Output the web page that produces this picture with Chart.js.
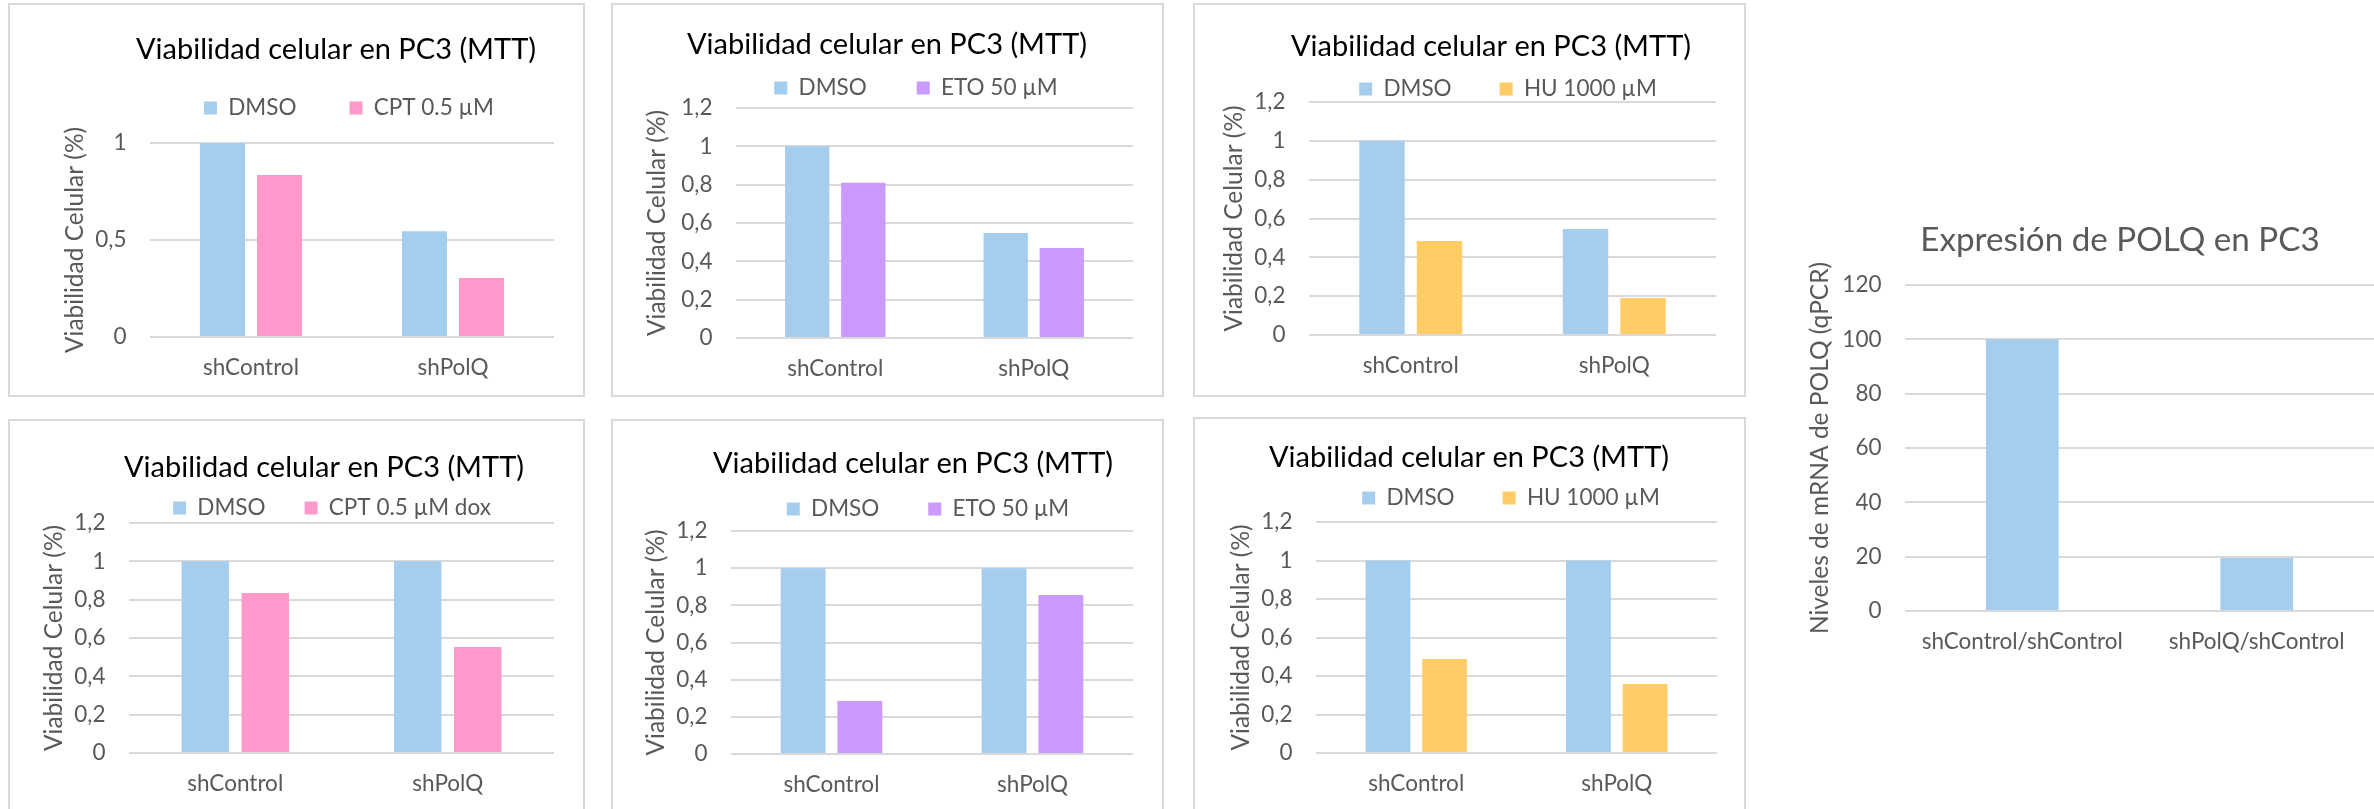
<!DOCTYPE html>
<html>
<head>
<meta charset="utf-8">
<title>Viabilidad celular en PC3</title>
<script src="https://cdn.jsdelivr.net/npm/chart.js@4.4.1/dist/chart.umd.min.js"></script>
<style>
  body { margin: 0; width: 2374px; height: 809px; overflow: hidden; background: #fff; position: relative; }
  .panel { position: absolute; box-sizing: border-box; border: 2px solid #d9d9d9; }
  canvas { position: absolute; }
</style>
</head>
<body>
<script>
// data
var categories = ['shControl', 'shPolQ'];
var dmsoCpt = [1, 0.545];
var cpt = [0.835, 0.304];
var dmsoEto = [1, 0.548];
var eto = [0.81, 0.469];
var dmsoHu = [1, 0.546];
var hu = [0.484, 0.191];
var dmsoCptDox = [1, 1];
var cptDox = [0.835, 0.553];
var dmsoEto2 = [1, 1];
var eto2 = [0.285, 0.856];
var dmsoHu2 = [1, 1];
var hu2 = [0.488, 0.358];
var polqCategories = ['shControl/shControl', 'shPolQ/shControl'];
var polqLevels = [100, 19.5];

var BLUE = '#A5CDEE', PINK = '#FF99CC', PURPLE = '#CC99FF', ORANGE = '#FFCC66';
var GREY = '#595959';
var SMALL = 22.5;

Chart.defaults.font.family = 'Lato, "Open Sans", sans-serif';

// moves the title and legend to fixed centres (the source chart has them hand-placed)
var placeText = {
    id: 'placeText',
    afterLayout: function(chart, args, opts) {
        var t = chart.titleBlock;
        if (t && opts.title) {
            moveBox(t, opts.title[0] - (t.left + t.right) / 2, opts.title[1] - (t.top + t.bottom) / 2);
        }
        var l = chart.legend;
        if (l && opts.legend) {
            var lab = l.options.labels;
            var itemH = Math.max(lab.font.size, lab.boxHeight);
            var cy = l.top + lab.padding + itemH / 2;
            moveBox(l, opts.legend[0] - (l.left + l.right) / 2, opts.legend[1] - cy);
            // legend clips to its own box, so give it back its full height
            l.bottom = l.top + lab.padding + itemH + 10;
            l.height = l.bottom - l.top;
        }
    }
};
function moveBox(b, dx, dy) {
    b.left += dx; b.right += dx; b.top += dy; b.bottom += dy;
}

function bars(label, values, color) {
    return { label: label, data: values, backgroundColor: color, borderWidth: 0,
             categoryPercentage: 0.565, barPercentage: 0.79 };
}

function commaTick(v) {
    return String(Math.round(v * 10) / 10).replace('.', ',');
}

var TITLE = 'Viabilidad celular en PC3 (MTT)';
var YTITLE = 'Viabilidad Celular (%)';

var panels = [
    { box: [8, 3, 577, 394], area: [150, 143, 554, 337], titleAt: [336, 50], legendAt: [349, 108], yTitleX: 75, gap: 53,
      max: 1, step: 0.5, labels: categories, datasets: [bars('DMSO', dmsoCpt, BLUE), bars('CPT 0.5 µM', cpt, PINK)] },
    { box: [611, 3, 553, 394], area: [736, 108, 1133, 338], titleAt: [887, 45], legendAt: [916, 88], yTitleX: 657, gap: 50,
      max: 1.2, step: 0.2, labels: categories, datasets: [bars('DMSO', dmsoEto, BLUE), bars('ETO 50 µM', eto, PURPLE)] },
    { box: [1193, 3, 553, 394], area: [1309, 102, 1716, 335], titleAt: [1491, 47], legendAt: [1508, 89], yTitleX: 1234, gap: 48,
      max: 1.2, step: 0.2, labels: categories, datasets: [bars('DMSO', dmsoHu, BLUE), bars('HU 1000 µM', hu, ORANGE)] },
    { box: [8, 419, 577, 400], area: [129, 523, 554, 753], titleAt: [324, 468], legendAt: [332, 508], yTitleX: 54, gap: 39,
      max: 1.2, step: 0.2, labels: categories, datasets: [bars('DMSO', dmsoCptDox, BLUE), bars('CPT 0.5 µM dox', cptDox, PINK)] },
    { box: [611, 419, 553, 400], area: [731, 531, 1133, 754], titleAt: [913, 464], legendAt: [928, 509], yTitleX: 656, gap: 49,
      max: 1.2, step: 0.2, labels: categories, datasets: [bars('DMSO', dmsoEto2, BLUE), bars('ETO 50 µM', eto2, PURPLE)] },
    { box: [1193, 417, 553, 402], area: [1316, 522, 1717, 753], titleAt: [1469, 458], legendAt: [1511, 498], yTitleX: 1241, gap: 48,
      max: 1.2, step: 0.2, labels: categories, datasets: [bars('DMSO', dmsoHu2, BLUE), bars('HU 1000 µM', hu2, ORANGE)] },
    { box: [1770, 150, 604, 560], area: [1905, 285, 2374, 611], titleAt: [2120, 240], legendAt: null, yTitleX: 1820, noBorder: true,
      title: 'Expresión de POLQ en PC3', titleSize: 33.2, titleColor: GREY, yTitle: 'Niveles de mRNA de POLQ (qPCR)',
      max: 120, step: 20, labels: polqCategories,
      datasets: [{ label: 'POLQ', data: polqLevels, backgroundColor: BLUE, borderWidth: 0, categoryPercentage: 0.31, barPercentage: 1 }] }
];

panels.forEach(function(p) {
    var box = p.box;
    if (!p.noBorder) {
        var d = document.createElement('div');
        d.className = 'panel';
        d.style.left = box[0] + 'px'; d.style.top = box[1] + 'px';
        d.style.width = box[2] + 'px'; d.style.height = box[3] + 'px';
        document.body.appendChild(d);
    }
    var c = document.createElement('canvas');
    c.width = box[2]; c.height = box[3];
    c.style.left = box[0] + 'px'; c.style.top = box[1] + 'px';
    document.body.appendChild(c);

    var titleSize = p.titleSize || 29;
    var titleLH = titleSize * 1.2;
    var legendH = p.legendAt ? 40 : 0;
    var left = p.area[0] - box[0], top = p.area[1] - box[1];
    var right = p.area[2] - box[0], bottom = p.area[3] - box[1];
    var yTitleSize = 24.5;

    new Chart(c, {
        type: 'bar',
        data: { labels: p.labels, datasets: p.datasets },
        options: {
            responsive: false,
            animation: false,
            devicePixelRatio: 1,
            layout: { padding: { left: 0, top: top - titleLH - legendH, right: box[2] - right, bottom: box[3] - bottom - 50 } },
            plugins: {
                title: { display: true, text: p.title || TITLE, color: p.titleColor || '#000',
                         font: { size: titleSize, weight: 'normal' }, padding: 0 },
                legend: { display: !!p.legendAt, maxHeight: legendH,
                          labels: { color: GREY, font: { size: SMALL }, boxWidth: 13, boxHeight: 13, padding: p.gap || 10 } },
                tooltip: { enabled: false },
                placeText: {
                    title: [p.titleAt[0] - box[0], p.titleAt[1] - box[1]],
                    legend: p.legendAt ? [p.legendAt[0] - box[0], p.legendAt[1] - box[1]] : null
                }
            },
            scales: {
                x: {
                    grid: { display: false, drawTicks: false },
                    border: { display: false },
                    ticks: { color: GREY, font: { size: SMALL }, padding: 17.5 },
                    afterFit: function(s) { s.height = 50; }
                },
                y: {
                    min: 0, max: p.max,
                    grid: { color: '#D9D9D9', lineWidth: 2, drawTicks: false },
                    border: { display: false },
                    ticks: { stepSize: p.step, color: GREY, font: { size: SMALL }, padding: 23.5, callback: commaTick },
                    title: { display: true, text: p.yTitle || YTITLE, color: GREY, font: { size: yTitleSize },
                             padding: { top: p.yTitleX - box[0] - yTitleSize * 0.6, bottom: 0 } },
                    afterFit: function(s) { s.width = left; }
                }
            }
        },
        plugins: [placeText]
    });
});
</script>
</body>
</html>
